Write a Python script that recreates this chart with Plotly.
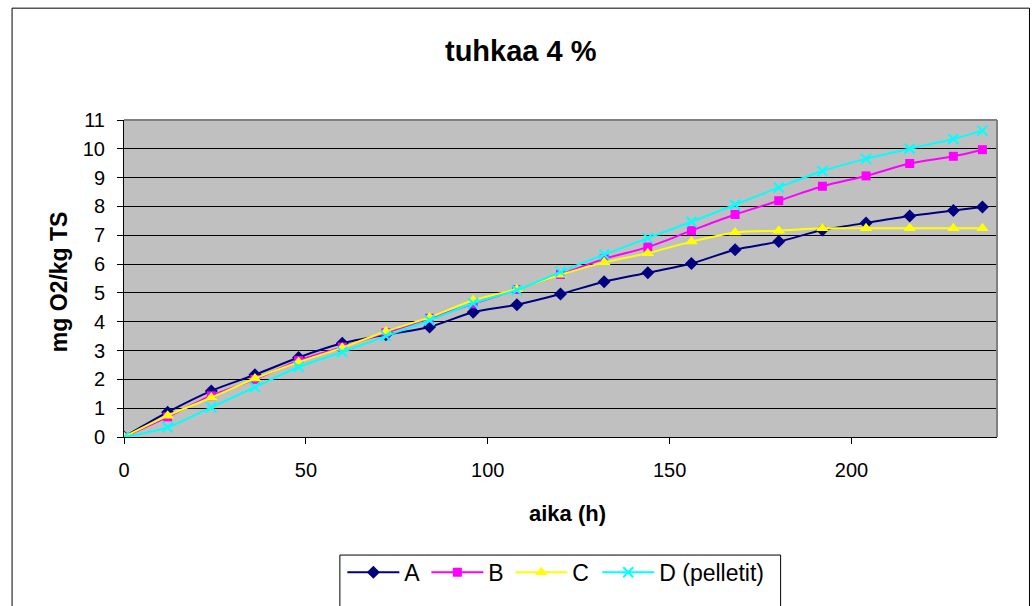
import plotly.graph_objects as go

# ---- data ----
hours = [0, 12, 24, 36, 48, 60, 72, 84, 96, 108, 120, 132, 144, 156, 168, 180, 192, 204, 216, 228, 236]
series_A = [0, 0.86, 1.60, 2.16, 2.76, 3.25, 3.55, 3.82, 4.33, 4.59, 4.96, 5.39, 5.70, 6.02, 6.50, 6.78, 7.18, 7.43, 7.67, 7.86, 7.98]
series_B = [0, 0.70, 1.43, 2.00, 2.65, 3.12, 3.62, 4.12, 4.62, 5.12, 5.64, 6.18, 6.59, 7.16, 7.72, 8.20, 8.70, 9.06, 9.49, 9.74, 9.97]
series_C = [0, 0.74, 1.37, 2.03, 2.60, 3.10, 3.66, 4.15, 4.75, 5.13, 5.63, 6.06, 6.38, 6.78, 7.10, 7.16, 7.24, 7.24, 7.24, 7.24, 7.24]
series_D = [0, 0.34, 1.03, 1.73, 2.43, 2.95, 3.50, 4.05, 4.64, 5.10, 5.73, 6.33, 6.90, 7.47, 8.06, 8.66, 9.23, 9.65, 10.00, 10.34, 10.63]
names = ["A", "B", "C", "D (pelletit)"]
y_ticks = list(range(0, 12))
x_ticks = [0, 50, 100, 150, 200]

FONT = "Arial, Liberation Sans, sans-serif"
W, H = 1035, 606
L, R, T, B = 123.5, 997.0, 120.0, 441.7  # plot area in px


def px(x):
    return (x - L) / (R - L)


def py(y):
    return (B - y) / (B - T)


styles = [
    dict(color="#000080", symbol="diamond", size=10, legend="legend"),
    dict(color="#FF00FF", symbol="square", size=9, legend="legend"),
    dict(color="#FFFF00", symbol="triangle-up", size=11, legend="legend"),
    dict(color="#00FFFF", symbol="x-thin", size=10, legend="legend2"),
]

fig = go.Figure()
for name, ys, st in zip(names, [series_A, series_B, series_C, series_D], styles):
    marker = dict(symbol=st["symbol"], size=st["size"], color=st["color"],
                  line=dict(width=2 if st["symbol"] == "x-thin" else 0, color=st["color"]))
    fig.add_trace(go.Scatter(x=hours, y=ys, name=name, mode="lines+markers", legend=st["legend"],
                             line=dict(color=st["color"], width=2, shape="spline", smoothing=0.8),
                             marker=marker))

leg_common = dict(orientation="h", xanchor="left", y=py(579), yanchor="middle",
                  font=dict(size=23), bgcolor="rgba(0,0,0,0)", borderwidth=0,
                  itemwidth=52, tracegroupgap=0)

fig.update_layout(
    width=W, height=H,
    margin=dict(l=L, r=W - R, t=T, b=H - B, pad=0),
    paper_bgcolor="white", plot_bgcolor="#C0C0C0",
    font=dict(family=FONT, size=20, color="black"),
    showlegend=True,
    legend=dict(x=px(342), entrywidth=17, entrywidthmode="pixels", **leg_common),
    legend2=dict(x=px(597), **leg_common),
    xaxis=dict(range=[0, 240], tickvals=x_ticks, ticks="outside", ticklen=6, tickcolor="black",
               showline=True, linecolor="black", linewidth=1, showgrid=False, zeroline=False,
               ticklabelstandoff=9, tickfont=dict(size=20)),
    yaxis=dict(range=[0, 11], tickvals=y_ticks, ticks="outside", ticklen=6, tickcolor="black",
               showline=True, linecolor="black", linewidth=1, showgrid=True, gridcolor="black",
               gridwidth=1, zeroline=False, ticklabelstandoff=8, tickfont=dict(size=20)),
    annotations=[
        dict(text="<b>tuhkaa 4 %</b>", x=px(521), y=py(50), xref="paper", yref="paper",
             showarrow=False, font=dict(size=29), xanchor="center", yanchor="middle"),
        dict(text="<b>aika (h)</b>", x=px(567), y=py(519), xref="paper", yref="paper",
             showarrow=False, font=dict(size=22), xanchor="center", yanchor="middle"),
        dict(text="<b>mg O2/kg TS</b>", x=px(58), y=py(284), xref="paper", yref="paper",
             showarrow=False, font=dict(size=23), textangle=-90, xanchor="center", yanchor="middle"),
    ],
    shapes=[
        # gray top/right plot-area border
        dict(type="line", xref="paper", yref="paper", x0=0, x1=1, y0=1, y1=1,
             line=dict(color="#808080", width=2)),
        dict(type="line", xref="paper", yref="paper", x0=1, x1=1, y0=0, y1=1,
             line=dict(color="#808080", width=2)),
        # outer chart border
        dict(type="rect", xref="paper", yref="paper", x0=px(11.5), x1=px(1029.5), y0=py(640), y1=py(6.5),
             line=dict(color="black", width=1), fillcolor="rgba(0,0,0,0)", layer="above"),
        # legend box
        dict(type="rect", xref="paper", yref="paper", x0=px(339.5), x1=px(780.5), y0=py(640), y1=py(561.5),
             line=dict(color="black", width=1), fillcolor="rgba(0,0,0,0)", layer="above"),
    ],
)

fig.write_html("out.html")
